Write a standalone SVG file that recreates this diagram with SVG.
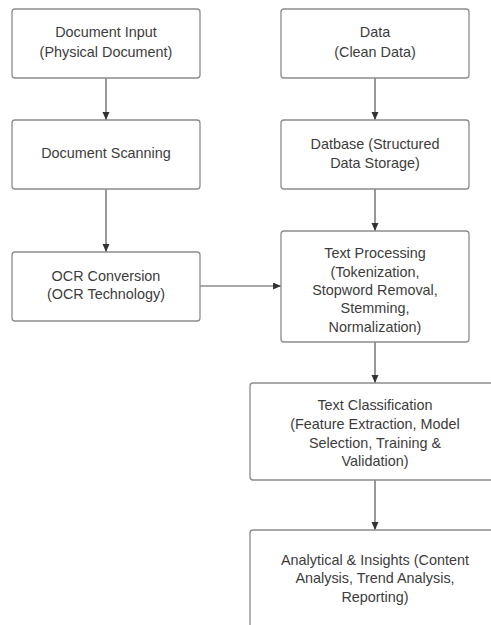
<svg xmlns="http://www.w3.org/2000/svg" width="491" height="625" viewBox="0 0 491 625">
<style>
.box{fill:#fff;stroke:#8c8c8c;stroke-width:1.3}
.t{font-family:"Liberation Sans",Arial,sans-serif;font-size:14.4px;fill:#3c3c3c;text-anchor:middle;dominant-baseline:central}
.c{stroke:#555;stroke-width:1.2;fill:none;marker-end:url(#ah)}
</style>
<defs>
<marker id="ah" markerUnits="userSpaceOnUse" markerWidth="9" markerHeight="8" refX="8" refY="3.5" orient="auto">
<path d="M0,0 L8,3.5 L0,7 z" fill="#333"/>
</marker>
</defs>
<rect width="491" height="625" fill="#fff"/>
<g id="connectors">
<line class="c" x1="106" y1="78" x2="106" y2="120"/>
<line class="c" x1="106" y1="189" x2="106" y2="252"/>
<line class="c" x1="375" y1="78" x2="375" y2="120"/>
<line class="c" x1="375" y1="189" x2="375" y2="231"/>
<line class="c" x1="200" y1="286" x2="281" y2="286"/>
<line class="c" x1="375" y1="342" x2="375" y2="383"/>
<line class="c" x1="375" y1="480" x2="375" y2="530"/>
</g>
<g id="doc-input">
<rect class="box" x="12" y="9" width="188" height="69" rx="3"/>
<text class="t" x="106" y="32">Document Input</text>
<text class="t" x="106" y="52">(Physical Document)</text>
</g>
<g id="doc-scanning">
<rect class="box" x="12" y="120" width="188" height="69" rx="3"/>
<text class="t" x="106" y="153">Document Scanning</text>
</g>
<g id="ocr">
<rect class="box" x="12" y="252" width="188" height="69" rx="3"/>
<text class="t" x="106" y="276">OCR Conversion</text>
<text class="t" x="106" y="294">(OCR Technology)</text>
</g>
<g id="data">
<rect class="box" x="281" y="9" width="188" height="69" rx="3"/>
<text class="t" x="375" y="32">Data</text>
<text class="t" x="375" y="52">(Clean Data)</text>
</g>
<g id="database">
<rect class="box" x="281" y="120" width="188" height="69" rx="3"/>
<text class="t" x="375" y="144">Datbase (Structured</text>
<text class="t" x="375" y="163">Data Storage)</text>
</g>
<g id="text-processing">
<rect class="box" x="281" y="231" width="188" height="111" rx="3"/>
<text class="t" x="375" y="253">Text Processing</text>
<text class="t" x="375" y="272">(Tokenization,</text>
<text class="t" x="375" y="290">Stopword Removal,</text>
<text class="t" x="375" y="308">Stemming,</text>
<text class="t" x="375" y="327">Normalization)</text>
</g>
<g id="text-classification">
<rect class="box" x="250" y="383" width="252" height="97" rx="3"/>
<text class="t" x="375" y="405">Text Classification</text>
<text class="t" x="375" y="424">(Feature Extraction, Model</text>
<text class="t" x="375" y="443">Selection, Training &amp;</text>
<text class="t" x="375" y="461">Validation)</text>
</g>
<g id="analytical">
<rect class="box" x="250" y="530" width="252" height="110" rx="3"/>
<text class="t" x="375" y="560">Analytical &amp; Insights (Content</text>
<text class="t" x="375" y="578">Analysis, Trend Analysis,</text>
<text class="t" x="375" y="597">Reporting)</text>
</g>
</svg>
